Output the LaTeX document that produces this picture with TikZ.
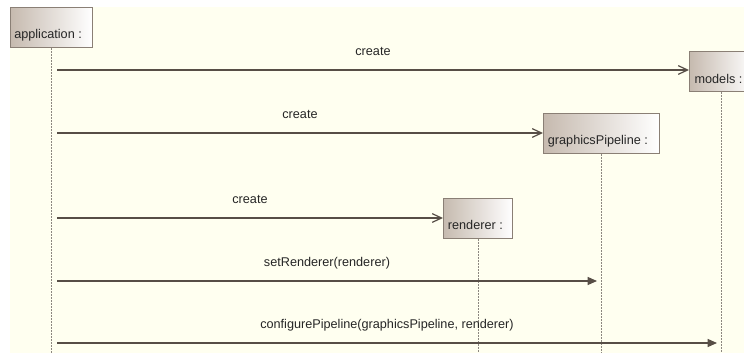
\documentclass[tikz,border=0pt]{standalone}
\usepackage{fontspec}
\setmainfont{Liberation Sans}
\usetikzlibrary{arrows.meta}
\definecolor{paper}{HTML}{FFFFF0}
\definecolor{msgline}{HTML}{574E46}
\definecolor{boxedge}{HTML}{8A7F75}
\definecolor{boxfill}{HTML}{C6BAAF}
\definecolor{lifegrey}{HTML}{8C8780}
\tikzset{
	objbox/.style={draw=boxedge,line width=0.75pt,left color=boxfill,right color=white,
		minimum height=30pt,anchor=north west,inner sep=0pt},
	objname/.style={anchor=base west,font=\fontsize{9.5}{11}\selectfont,text=black!85,inner sep=0pt},
	msglabel/.style={anchor=base,yshift=11pt,font=\fontsize{9.5}{11}\selectfont,text=black!85,inner sep=0pt},
	life/.style={draw=lifegrey,line width=0.75pt,dash pattern=on 1.5pt off 0.75pt},
	create/.style={draw=msgline,line width=0.9pt,-{Straight Barb[length=7pt,width=6.5pt]}},
	call/.style={draw=msgline,line width=0.9pt,-{Triangle[length=7pt,width=6pt]},fill=msgline}
}
\begin{document}
\begin{tikzpicture}[x=0.75pt,y=-0.75pt]
	\clip (0,0) rectangle (744,353);
	\fill[paper] (10,7) rectangle (744,353);
	\coordinate (bot) at (0,353);
	% objects
	\node[objbox,minimum width=61.5pt] (app) at (10,7) {};
	\node[objname] (appname) at ([xshift=3pt,yshift=7pt]app.south west) {application :};
	\node[objbox,minimum width=48pt] (models) at (689,51) {};
	\node[objname] (modelsname) at ([xshift=4pt,yshift=6.5pt]models.south west) {models :};
	\node[objbox,minimum width=87pt] (pipe) at (543,113) {};
	\node[objname] (pipename) at ([xshift=3.5pt,yshift=6.75pt]pipe.south west) {graphicsPipeline :};
	\node[objbox,minimum width=51.75pt] (rend) at (443,198) {};
	\node[objname] (rendname) at ([xshift=3.5pt,yshift=7pt]rend.south west) {renderer :};
	% lifelines
	\draw[life] (app.south) -- (app.south |- bot);
	\draw[life] (models.south) -- (models.south |- bot);
	\draw[life] (pipe.south) -- (pipe.south |- bot);
	\draw[life] (rend.south) -- (rend.south |- bot);
	% messages
	\coordinate (s1) at (57,70);
	\coordinate (s2) at (57,133);
	\coordinate (s3) at (57,218);
	\coordinate (s4) at (57,281);
	\coordinate (s5) at (57,343);
	\coordinate (e4) at (597,281);
	\coordinate (e5) at (717,343);
	\draw[create] (s1) -- node[msglabel] (m1) {create} (s1 -| models.west);
	\draw[create] (s2) -- node[msglabel] (m2) {create} (s2 -| pipe.west);
	\draw[create] (s3) -- node[msglabel] (m3) {create} (s3 -| rend.west);
	\draw[call] (s4) -- node[msglabel] (m4) {setRenderer(renderer)} (e4);
	\draw[call] (s5) -- node[msglabel] (m5) {configurePipeline(graphicsPipeline, renderer)} (e5);
\end{tikzpicture}
\end{document}
